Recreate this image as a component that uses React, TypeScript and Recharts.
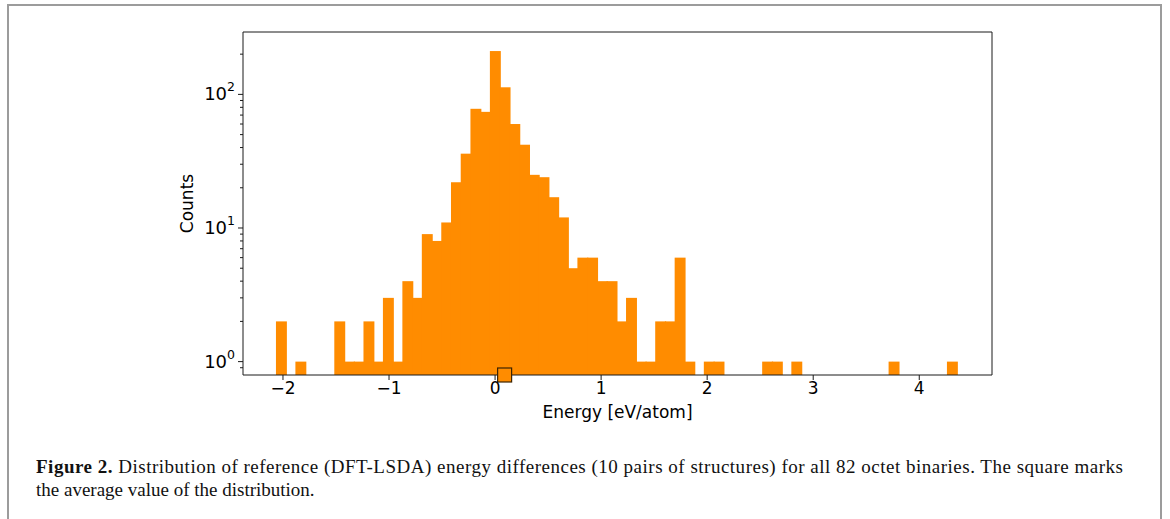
import { ComposedChart, Bar, XAxis, YAxis, ReferenceDot, ReferenceLine } from 'recharts';

// histogram of energy differences, 70 equal bins between HIST_START and HIST_END
const HIST_START = -2.056;
const HIST_END = 4.363;
const counts = [
  2, 0, 1, 0, 0, 0, 2, 1, 1, 2,
  1, 3, 1, 4, 3, 9, 8, 11, 22, 36,
  78, 74, 211, 113, 60, 42, 25, 24, 17, 12,
  5, 6, 6, 4, 4, 2, 3, 1, 1, 2,
  2, 6, 1, 0, 1, 1, 0, 0, 0, 0,
  1, 1, 0, 1, 0, 0, 0, 0, 0, 0,
  0, 0, 0, 1, 0, 0, 0, 0, 0, 1,
];
const MEAN_ENERGY = 0.09;

const xTicks = [-2, -1, 0, 1, 2, 3, 4];
const yTicks = [0.9, 1, 2, 3, 4, 5, 6, 7, 8, 9, 10, 20, 30, 40, 50, 60, 70, 80, 90, 100, 200];
const X_DOMAIN: [number, number] = [-2.377, 4.686];
const Y_DOMAIN: [number, number] = [0.794, 293];

const captionLines = [
  'Distribution of reference (DFT-LSDA) energy differences (10 pairs of structures) for all 82 octet binaries. The square marks',
  'the average value of the distribution.',
];

const binWidth = (HIST_END - HIST_START) / counts.length;
// empty bins are left out (log scale)
const chartData = counts
  .map((count, i) => ({ x: HIST_START + (i + 0.5) * binWidth, count }))
  .filter((d) => d.count > 0);

const W = 1170;
const H = 440;
const MARGIN = { top: 32, right: 178, bottom: 0, left: 0 };
const Y_AXIS_W = 243;
const plotW = W - MARGIN.left - MARGIN.right - Y_AXIS_W;
const pxPerUnit = plotW / (X_DOMAIN[1] - X_DOMAIN[0]);
const barPx = binWidth * pxPerUnit;

const AXIS_FONT = "'DejaVu Sans', sans-serif";
const CAPTION_FONT = "'Liberation Serif', serif";
const INK = '#1a1a1a';
const ORANGE = '#ff8c00';

function LogTick(props: any) {
  const { x, y, payload } = props;
  const v = payload.value as number;
  const exp = Math.log10(v);
  const major = Math.abs(exp - Math.round(exp)) < 1e-6;
  return (
    <g>
      <line x1={x - (major ? 5 : 3)} x2={x} y1={y} y2={y} stroke={INK} strokeWidth={1} />
      {major && (
        <text x={x - 8} y={y + 6} textAnchor="end" fontSize={18} fontFamily={AXIS_FONT} fill="#000">
          10
          <tspan dy={-9} fontSize={12.5}>
            {Math.round(exp)}
          </tspan>
        </text>
      )}
    </g>
  );
}

function XTick(props: any) {
  const { x, y, payload } = props;
  const label = String(payload.value).replace('-', '\u2212');
  return (
    <text x={x} y={y + 14} textAnchor="middle" fontSize={17} fontFamily={AXIS_FONT} fill="#000">
      {label}
    </text>
  );
}

// histogram bar: centred on its bin, one full bin wide plus a little overlap so no seams show
function HistBar(props: any) {
  const { x, y, width, height } = props;
  if (!height || height <= 0) return null;
  const cx = x + width / 2;
  const w = barPx + 1.2;
  return <rect x={cx - w / 2} y={y} width={w} height={height} fill={ORANGE} stroke="none" />;
}

function MeanSquare(props: any) {
  const { cx, cy } = props;
  return <rect x={cx - 7} y={cy - 7} width={14} height={14} fill={ORANGE} stroke="#3d2400" strokeWidth={1.2} />;
}

export default function App() {
  return (
    <div style={{ position: 'absolute', left: 0, top: 0, width: W, height: 519, background: '#fff', overflow: 'hidden' }}>
      <div
        style={{
          position: 'absolute',
          left: 7,
          top: 4,
          width: 1151,
          height: 600,
          border: '2px solid #9c9c9c',
        }}
      />
      <div style={{ position: 'absolute', left: 0, top: 0 }}>
        <ComposedChart width={W} height={H} data={chartData} margin={MARGIN} barCategoryGap={0} barGap={0}>
          <XAxis
            xAxisId="bottom"
            type="number"
            dataKey="x"
            domain={X_DOMAIN}
            allowDataOverflow
            ticks={xTicks}
            interval={0}
            height={65}
            stroke={INK}
            tickSize={5}
            tickMargin={0}
            tick={<XTick />}
            label={(p: any) => (
              <text
                x={p.viewBox.x + p.viewBox.width / 2}
                y={p.viewBox.y + 43}
                textAnchor="middle"
                fontSize={17}
                fontFamily={AXIS_FONT}
                fill="#000"
              >
                Energy [eV/atom]
              </text>
            )}
          />
          <YAxis
            yAxisId="left"
            scale="log"
            domain={Y_DOMAIN}
            allowDataOverflow
            ticks={yTicks}
            interval={0}
            width={Y_AXIS_W}
            stroke={INK}
            tickLine={false}
            tickSize={0}
            tickMargin={0}
            tick={<LogTick />}
            label={(p: any) => {
              const cx = p.viewBox.x + p.viewBox.width - 56;
              const cy = p.viewBox.y + p.viewBox.height / 2;
              return (
                <text
                  x={cx}
                  y={cy}
                  transform={`rotate(-90 ${cx} ${cy})`}
                  textAnchor="middle"
                  dominantBaseline="central"
                  fontSize={17}
                  fontFamily={AXIS_FONT}
                  fill="#000"
                >
                  Counts
                </text>
              );
            }}
          />
          <Bar
            xAxisId="bottom"
            yAxisId="left"
            dataKey="count"
            fill={ORANGE}
            barSize={barPx}
            shape={<HistBar />}
            isAnimationActive={false}
          />
          {/* top and right spines */}
          <ReferenceLine xAxisId="bottom" yAxisId="left" y={Y_DOMAIN[1]} stroke={INK} strokeWidth={1} />
          <ReferenceLine xAxisId="bottom" yAxisId="left" x={X_DOMAIN[1]} stroke={INK} strokeWidth={1} />
          <ReferenceDot
            xAxisId="bottom"
            yAxisId="left"
            x={MEAN_ENERGY}
            y={Y_DOMAIN[0]}
            ifOverflow="visible"
            shape={<MeanSquare />}
          />
        </ComposedChart>
      </div>
      <svg style={{ position: 'absolute', left: 0, top: 440 }} width={W} height={79}>
        <text
          x={36}
          y={33}
          textLength={1087}
          lengthAdjust="spacing"
          fontSize={19}
          fontFamily={CAPTION_FONT}
          fill="#111"
        >
          <tspan fontWeight="bold">Figure 2.</tspan> {captionLines[0]}
        </text>
        <text x={36} y={56} fontSize={19} fontFamily={CAPTION_FONT} fill="#111">
          {captionLines[1]}
        </text>
      </svg>
    </div>
  );
}
